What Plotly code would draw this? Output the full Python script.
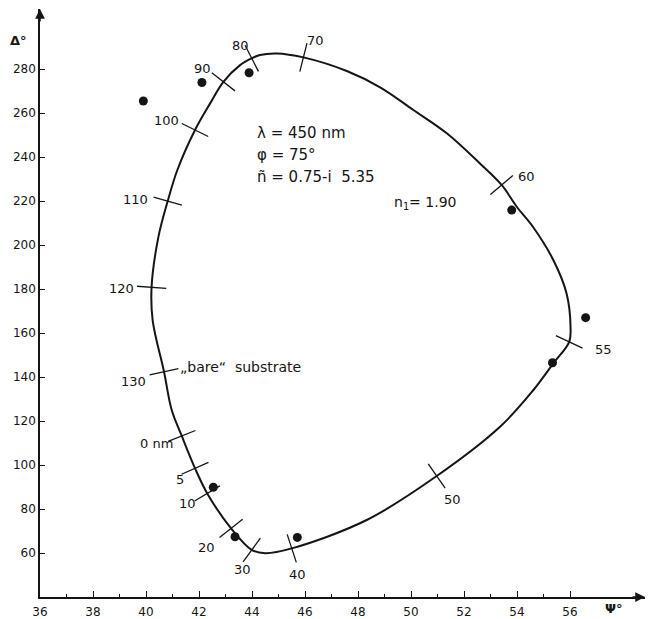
import math
import plotly.graph_objects as go

# ---------------- data ----------------
# Computed ellipsometric curve (Psi, Delta) for n1 = 1.90, closed loop
curve_psi = [41.35, 41.85, 42.31, 43.21, 43.99, 44.50, 45.50, 48.33, 50.97,
             53.36, 54.62, 55.37, 55.97, 56.02, 55.87, 55.37, 54.60, 53.99,
             53.42, 52.60, 51.35, 50.09, 48.85, 47.60, 45.94, 44.93, 44.30, 43.99,
             43.55, 42.92, 42.42, 41.85, 41.18, 40.82, 40.47, 40.21, 40.25, 40.68,
             40.97]
curve_delta = [113.2, 98.5, 87.1, 71.2, 61.4, 59.9, 62.1, 75.0, 95.0,
               117.4, 134.1, 146.2, 156.0, 162.9, 178.0, 193.2, 208.3, 217.4,
               227.3, 237.1, 250.8, 261.4, 271.6, 279.0, 285.3, 287.1, 286.4, 284.9,
               281.8, 274.2, 264.4, 252.3, 234.0, 220.0, 203.8, 180.8, 165.9, 142.4,
               125.0]
# film thickness (nm) marked on the curve (None = no mark)
curve_nm = [0, 5, 10, 20, 30, None, 40, None, 50,
            None, None, None, 55, None, None, None, None, None,
            60, None, None, None, None, None, 70, None, None, 80,
            None, 90, None, 100, None, 110, None, 120, None, 130,
            None]
nm_text = {0: "0 nm"}

# measured points
meas_psi = [39.90, 42.11, 43.89, 53.80, 56.59, 55.34, 42.54, 43.36, 45.71]
meas_delta = [265.5, 273.9, 278.3, 215.9, 167.0, 146.5, 89.9, 67.4, 67.1]

# axis ticks
x_ticks = [36, 38, 40, 42, 44, 46, 48, 50, 52, 54, 56]
x_minor = [37, 39, 41, 43, 45, 47, 49, 51, 53, 55]
y_ticks = [60, 80, 100, 120, 140, 160, 180, 200, 220, 240, 260, 280]

# label placement (Psi, Delta) for the thickness labels
label_pos = {0: (40.38, 109.9), 5: (41.28, 93.6), 10: (41.56, 82.3), 20: (42.29, 62.6),
             30: (43.65, 52.6), 40: (45.71, 50.3), 50: (51.57, 84.5), 55: (57.26, 152.7),
             60: (54.34, 231.0), 70: (46.38, 292.9), 80: (43.55, 290.9), 90: (42.12, 280.3),
             100: (40.78, 256.5), 110: (39.62, 220.5), 120: (39.08, 180.3), 130: (39.52, 137.9)}

# ---------------- layout constants ----------------
W, H = 649, 619
ML, MR, MT, MB = 40, 4, 9, 22
XR = [36, 58.83]
YR = [40, 307.3]
PW, PH = W - ML - MR, H - MT - MB
SX = PW / (XR[1] - XR[0])
SY = PH / (YR[1] - YR[0])
FONT = "DejaVu Sans"
INK = "#151515"


def paper(px, py):
    return (px - ML) / PW, 1 - (py - MT) / PH


fig = go.Figure()

# curve (closed)
fig.add_trace(go.Scatter(
    x=curve_psi + [curve_psi[0]], y=curve_delta + [curve_delta[0]],
    mode="lines", line=dict(color=INK, width=2, shape="spline", smoothing=1.0),
    hoverinfo="skip", showlegend=False))

# thickness tick marks, perpendicular to curve
n = len(curve_psi)
tx, ty, tang = [], [], []
for i, nm in enumerate(curve_nm):
    if nm is None:
        continue
    a, b = (i - 1) % n, (i + 1) % n
    dx = (curve_psi[b] - curve_psi[a]) * SX
    dy = -(curve_delta[b] - curve_delta[a]) * SY
    tx.append(curve_psi[i])
    ty.append(curve_delta[i])
    tang.append(math.degrees(math.atan2(dy, dx)))
fig.add_trace(go.Scatter(
    x=tx, y=ty, mode="markers",
    marker=dict(symbol="line-ns", size=21, angle=tang,
                line=dict(color=INK, width=1.3)),
    hoverinfo="skip", showlegend=False))

# measured points
fig.add_trace(go.Scatter(
    x=meas_psi, y=meas_delta, mode="markers",
    marker=dict(symbol="circle", size=9, color=INK),
    hoverinfo="skip", showlegend=False))

annotations = []
for nm in curve_nm:
    if nm is None:
        continue
    lx, ly = label_pos[nm]
    annotations.append(dict(x=lx, y=ly, xref="x", yref="y", text=nm_text.get(nm, str(nm)),
                            showarrow=False, xanchor="center", yanchor="middle",
                            font=dict(family=FONT, size=13, color=INK)))

# text block
for txt, d in [("λ = 450 nm", 250.8), ("φ = 75°", 240.9), ("ñ = 0.75-i  5.35", 230.8)]:
    annotations.append(dict(x=44.11, y=d, xref="x", yref="y", text=txt, showarrow=False,
                            xanchor="left", yanchor="middle",
                            font=dict(family=FONT, size=15, color=INK)))
annotations.append(dict(x=49.28, y=219.1, xref="x", yref="y", text="n<sub>1</sub>= 1.90",
                        showarrow=False, xanchor="left", yanchor="middle",
                        font=dict(family=FONT, size=14, color=INK)))
annotations.append(dict(x=41.21, y=144.7, xref="x", yref="y", text="„bare“  substrate",
                        showarrow=False, xanchor="left", yanchor="middle",
                        font=dict(family=FONT, size=14, color=INK)))

# axis titles
px_, py_ = paper(18, 41)
annotations.append(dict(x=px_, y=py_, xref="paper", yref="paper", text="<b>Δ°</b>",
                        showarrow=False, xanchor="center", yanchor="middle",
                        font=dict(family=FONT, size=13, color=INK)))
px_, py_ = paper(614, 608)
annotations.append(dict(x=px_, y=py_, xref="paper", yref="paper", text="<b>Ψ°</b>",
                        showarrow=False, xanchor="center", yanchor="middle",
                        font=dict(family=FONT, size=13, color=INK)))

# axis arrowheads
annotations.append(dict(x=0, y=1, xref="paper", yref="paper", ax=0, ay=14, text="",
                        showarrow=True, arrowhead=2, arrowsize=1.3, arrowwidth=1.5,
                        arrowcolor=INK, standoff=0))
annotations.append(dict(x=1, y=0, xref="paper", yref="paper", ax=-14, ay=0, text="",
                        showarrow=True, arrowhead=2, arrowsize=1.3, arrowwidth=1.5,
                        arrowcolor=INK, standoff=0))

axis_common = dict(showgrid=False, zeroline=False, showline=True, linecolor=INK,
                   linewidth=1.5, ticks="inside", tickcolor=INK, tickwidth=1.3,
                   tickfont=dict(family=FONT, size=12, color=INK))

fig.update_layout(
    width=W, height=H,
    margin=dict(l=ML, r=MR, t=MT, b=MB, autoexpand=False),
    paper_bgcolor="white", plot_bgcolor="white",
    showlegend=False,
    xaxis=dict(range=XR, tickvals=x_ticks, ticklen=6, ticklabelstandoff=3,
               minor=dict(tickvals=x_minor, ticks="inside", ticklen=3,
                          tickcolor=INK, tickwidth=1.1),
               **axis_common),
    yaxis=dict(range=YR, tickvals=y_ticks, ticklen=5, **axis_common),
    annotations=annotations,
)

fig.write_html("out.html")
